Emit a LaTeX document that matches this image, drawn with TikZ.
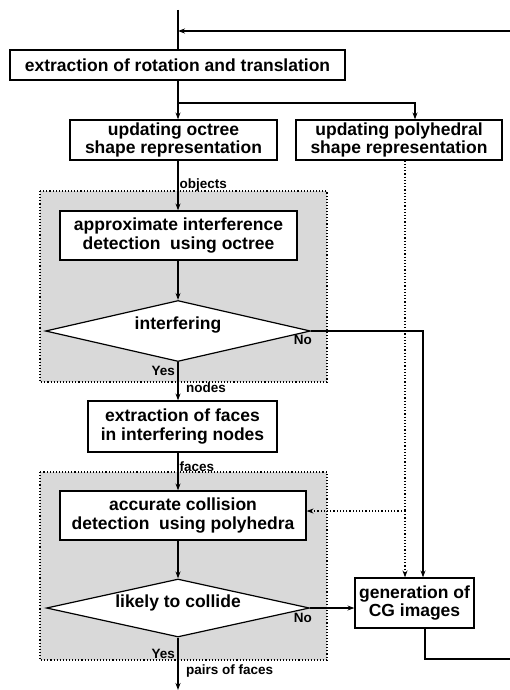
\documentclass[tikz,border=0pt]{standalone}
\usepackage{fontspec}
\setmainfont{Liberation Sans}
\usetikzlibrary{shapes.geometric,arrows.meta}
\begin{document}
\begin{tikzpicture}[x=1pt,y=-1pt,
  every node/.style={font=\bfseries},
  box/.style={draw,line width=1.2pt,fill=white,inner sep=0pt,align=center,font=\bfseries\fontsize{17.5}{18.5}\selectfont},
  dec/.style={draw,diamond,line width=1.2pt,fill=white,inner sep=0pt,align=center},
  dtext/.style={font=\bfseries\fontsize{17.5}{18.5}\selectfont,inner sep=0pt},
  lbl/.style={font=\bfseries\fontsize{13.5}{14}\selectfont,inner sep=1pt},
  shade/.style={fill=gray!30,draw,dotted,line width=1.1pt},
  conn/.style={line width=1.2pt,-{Stealth[length=7pt,width=5pt]}},
  line/.style={line width=1.2pt},
  dconn/.style={line width=1.2pt,dotted,-{Stealth[length=7pt,width=5pt]}},
  dline/.style={line width=1.2pt,dotted}]
\useasboundingbox (0,0) rectangle (510,690);
% shaded regions
\path[shade] (40,191) rectangle (327,382);
\path[shade] (40,472) rectangle (327,660);
% nodes
\node[box,minimum width=335pt,minimum height=30pt] (ext) at (177.5,65) {extraction of rotation and translation};
\node[box,minimum width=207pt,minimum height=40pt] (oct) at (173.5,140) {updating octree\\shape representation};
\node[box,minimum width=206pt,minimum height=40pt] (poly) at (399,140) {updating polyhedral\\shape representation};
\node[box,minimum width=237pt,minimum height=49pt] (appr) at (178.5,235.5) {approximate interference\\detection\ \ using octree};
\node[dec,minimum width=265pt,minimum height=61pt] (inter) at (178,331) {};
\node[dtext] (intertext) at (178,325) {interfering};
\node[box,minimum width=189pt,minimum height=51pt] (faces) at (182.5,426.5) {extraction of faces\\in interfering nodes};
\node[box,minimum width=246pt,minimum height=49pt] (acc) at (183,515.5) {accurate collision\\detection\ \ using polyhedra};
\node[dec,minimum width=263pt,minimum height=58pt] (likely) at (178,608) {};
\node[dtext] (likelytext) at (178,603) {likely to collide};
\node[box,minimum width=119pt,minimum height=50pt] (cg) at (414.5,603) {generation of\\CG images};
% coordinates
\coordinate (top) at (178,10);
\coordinate (fb) at (178,31);
\coordinate (br) at (178,103);
\coordinate (out) at (178,690);
\coordinate (dp) at (405,511);
% connectors
\draw[line] (top) -- (ext.north -| top);
\draw[conn] (510,31) -- (fb);
\draw[line] (ext.south -| br) -- (br);
\draw[conn] (br) -- (oct.north -| br);
\draw[conn] (br) -- (415,103) -- (poly.north -| 415,0);
\draw[conn] (oct.south -| 178,0) -- (appr.north -| 178,0) node[lbl,pos=0.5,anchor=west] {objects};
\draw[conn] (appr.south -| inter.north) -- (inter.north);
\draw[conn] (inter.east) -- (423,331) -- (cg.north -| 423,0);
\node[lbl,anchor=north east] (no1) at ([xshift=2pt,yshift=-3pt]inter.east) {No};
\draw[conn] (inter.south) -- (faces.north -| inter.south);
\node[lbl,anchor=east] (yes1) at (176,371) {Yes};
\node[lbl,anchor=west] (nodes) at (185,388) {nodes};
\draw[conn] (faces.south -| 178,0) -- (acc.north -| 178,0) node[lbl,pos=0.38,anchor=west] {faces};
\draw[conn] (acc.south -| likely.north) -- (likely.north);
\draw[conn] (likely.east) -- (cg.west |- likely.east);
\node[lbl,anchor=north east] (no2) at ([xshift=3pt,yshift=-4pt]likely.east) {No};
\draw[conn] (likely.south) -- (out);
\node[lbl,anchor=east] (yes2) at (176,654) {Yes};
\node[lbl,anchor=west] (pairs) at (185,671) {pairs of faces};
\draw[dline] (poly.south -| 405,0) -- (dp);
\draw[dconn] (dp) -- (cg.north -| dp);
\draw[dconn] (dp) -- (acc.east |- dp);
\draw[line] (cg.south -| 425,0) -- (425,659) -- (511,659) -- (511,31);
\end{tikzpicture}
\end{document}
